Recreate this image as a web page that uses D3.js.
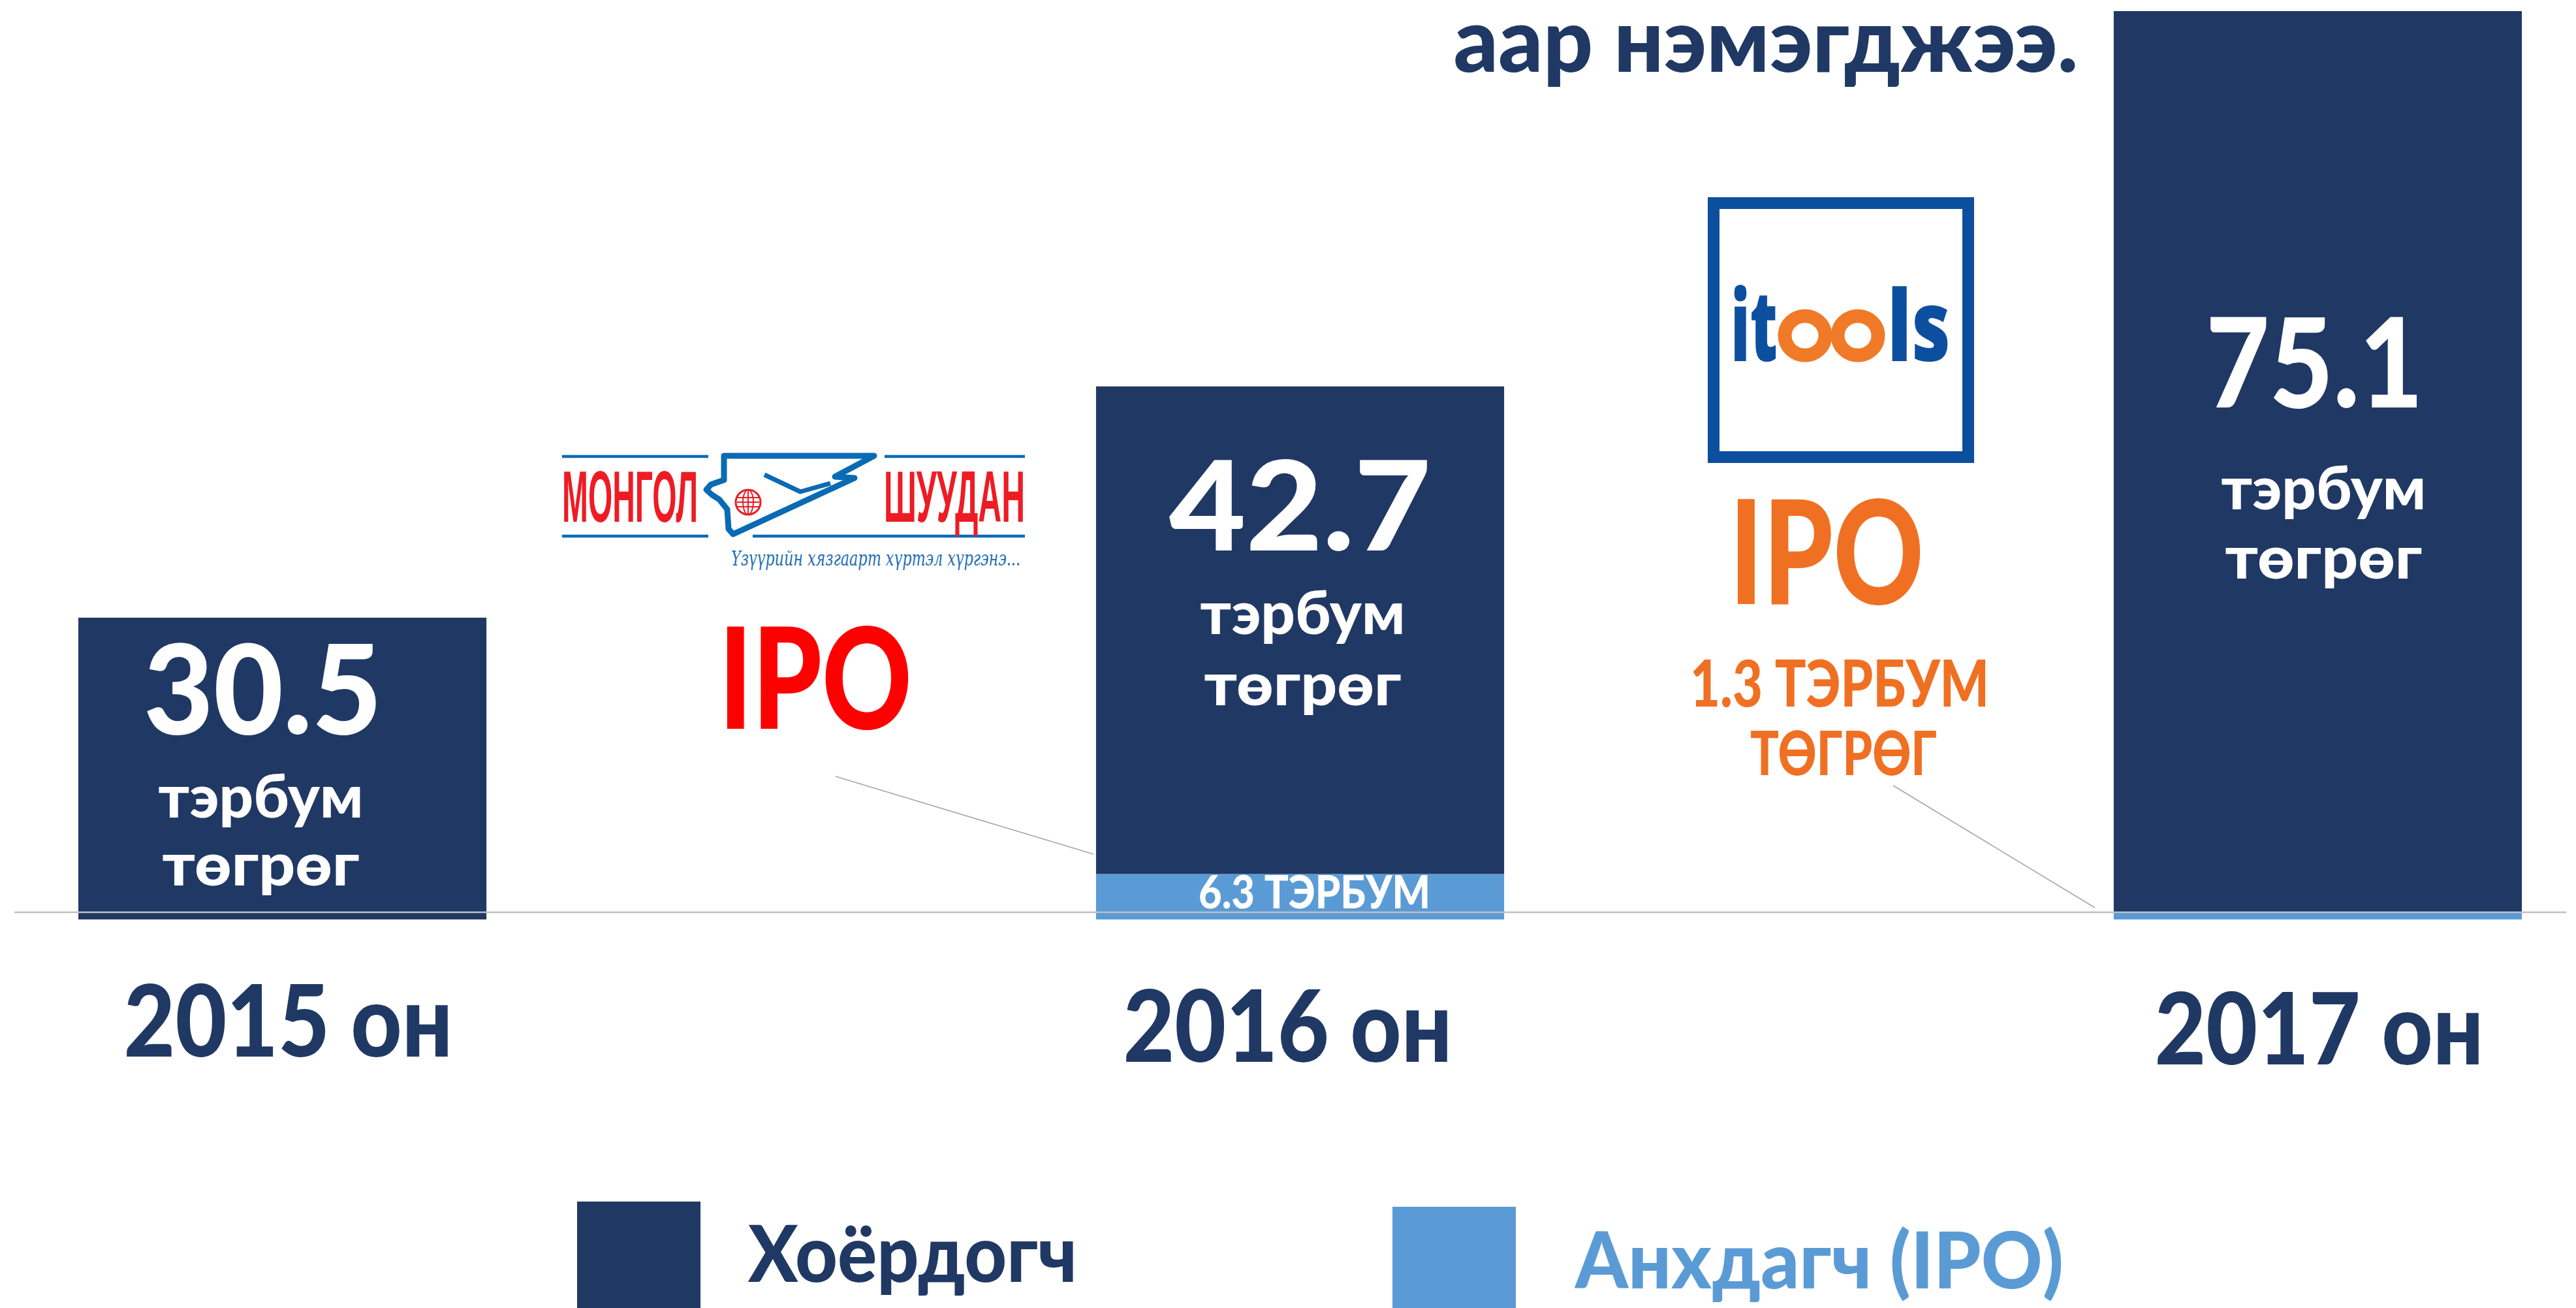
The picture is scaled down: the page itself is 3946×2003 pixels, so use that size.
<!DOCTYPE html>
<html>
<head>
<meta charset="utf-8">
<script src="https://cdn.jsdelivr.net/npm/d3@7"></script>
<style>
html,body{margin:0;padding:0;background:#ffffff;}
svg{display:block;}
</style>
</head>
<body>
<svg id="chart" width="3946" height="2003"></svg>
<script>
// ---------------- DATA ----------------
const years = ["2015 он", "2016 он", "2017 он"];
const secondary = [30.5, 42.7, 75.1];       // Хоёрдогч (тэрбум төгрөг)
const ipo = [0, 6.3, 1.3];                  // Анхдагч (IPO) (тэрбум төгрөг)
const seriesKeys = ["ipo", "secondary"];
const seriesNames = ["Хоёрдогч", "Анхдагч (IPO)"];
const unitLines = ["тэрбум", "төгрөг"];
const headline = "аар нэмэгджээ.";
const ipoWord = "IPO";
const ipoUnit = "ТЭРБУМ";
const ipoUnit2 = "ТӨГРӨГ";

// ---------------- STYLE / LAYOUT ----------------
const W = 3946, H = 2003;
const DARK = "#203864", LIGHT = "#5b9bd5";
const FONT = "Lato, 'Noto Sans', Inter, sans-serif";
const color = d3.scaleOrdinal().domain(seriesKeys).range([LIGHT, DARK]);

const svg = d3.select("#chart");

const x = d3.scaleBand().domain(years).range([120, 3863]).paddingInner(0.599).paddingOuter(0);
const rows = years.map((yr, i) => ({year: yr, ipo: ipo[i], secondary: secondary[i]}));
const stacked = d3.stack().keys(seriesKeys)(rows);
const maxTotal = d3.max(rows, d => d.ipo + d.secondary);
const y = d3.scalePow().exponent(1.2).domain([0, maxTotal]).range([1408, 17]);

function txt(g, o) {
  const t = g.append("text")
    .attr("x", o.x).attr("y", o.y)
    .attr("text-anchor", o.anchor || "middle")
    .attr("font-family", o.family || FONT)
    .attr("font-weight", o.weight || 900)
    .attr("font-size", o.size)
    .attr("fill", o.fill)
    .text(o.text);
  if (o.style) t.attr("font-style", o.style);
  if (o.width) t.attr("textLength", o.width).attr("lengthAdjust", "spacingAndGlyphs");
  return t;
}

// ---------------- HEADLINE (cropped) ----------------
txt(svg, {x: 2705, y: 110, text: headline, size: 136, fill: DARK, width: 957});

// ---------------- BARS ----------------
const gBars = svg.append("g");
gBars.selectAll("g.series").data(stacked).join("g")
  .attr("class", "series")
  .attr("fill", d => color(d.key))
  .selectAll("rect").data(d => d).join("rect")
  .attr("x", d => x(d.data.year))
  .attr("y", d => y(d[1]))
  .attr("width", x.bandwidth())
  .attr("height", d => y(d[0]) - y(d[1]));

// axis base line (drawn over bars)
svg.append("line")
  .attr("x1", 22).attr("x2", 3931).attr("y1", 1397).attr("y2", 1397)
  .attr("stroke", "#bfbfbf").attr("stroke-width", 2.5);

// ---------------- VALUE LABELS IN BARS ----------------
const lblLayout = {
  dx: [-30, 0, -5],
  numBase: [1124, 843, 624],
  numWidth: [365, 401, 333],
  unitBase1: [1252, 971, 780],
  unitBase2: [1356, 1080, 886],
  unitDx: [-33, 4, 9]
};
const gLbl = svg.append("g");
years.forEach((yr, i) => {
  const cx = x(yr) + x.bandwidth() / 2;
  txt(gLbl, {x: cx + lblLayout.dx[i], y: lblLayout.numBase[i], text: secondary[i].toFixed(1),
             size: 190, fill: "#ffffff", width: lblLayout.numWidth[i]});
  txt(gLbl, {x: cx + lblLayout.unitDx[i], y: lblLayout.unitBase1[i], text: unitLines[0],
             size: 91, fill: "#ffffff", width: 314});
  txt(gLbl, {x: cx + lblLayout.unitDx[i], y: lblLayout.unitBase2[i], text: unitLines[1],
             size: 91, fill: "#ffffff", width: 302});
});
// IPO value inside the 2016 light segment
txt(gLbl, {x: x(years[1]) + x.bandwidth() / 2 + 22, y: 1391, text: ipo[1].toFixed(1) + " " + ipoUnit,
           size: 71, fill: "#ffffff", width: 355});

// ---------------- YEAR AXIS ----------------
const yearDx = [9, -19, 2];
const yearBase = [221, 229, 233];
const gAxis = svg.append("g").attr("transform", "translate(0,1397)")
  .call(d3.axisBottom(x).tickSize(0).tickPadding(0));
gAxis.select(".domain").remove();
gAxis.selectAll(".tick text")
  .attr("font-family", FONT).attr("font-weight", 900).attr("font-size", 152)
  .attr("fill", DARK)
  .attr("dy", 0)
  .attr("y", (d, i) => yearBase[i])
  .attr("x", (d, i) => yearDx[i])
  .attr("textLength", 504).attr("lengthAdjust", "spacingAndGlyphs");

// ---------------- ANNOTATIONS ----------------
const gAnn = svg.append("g");
// leader lines
gAnn.append("line").attr("x1", 1280).attr("y1", 1189).attr("x2", 1675).attr("y2", 1308)
  .attr("stroke", "#a6a6a6").attr("stroke-width", 1.6);
gAnn.append("line").attr("x1", 2900).attr("y1", 1203).attr("x2", 3209).attr("y2", 1390)
  .attr("stroke", "#a6a6a6").attr("stroke-width", 1.6);

// Mongol Shuudan IPO (2016)
txt(gAnn, {x: 1249, y: 1116, text: ipoWord, size: 215, fill: "#ff0000", width: 296});
// iTools IPO (2017)
const ORANGE = "#f07023";
txt(gAnn, {x: 2798, y: 925, text: ipoWord, size: 222, fill: ORANGE, width: 298});
txt(gAnn, {x: 2818, y: 1082, text: ipo[2].toFixed(1) + " " + ipoUnit, size: 99, fill: ORANGE, width: 458});
txt(gAnn, {x: 2824, y: 1187, text: ipoUnit2, size: 94, fill: ORANGE, width: 286});

// ---- Mongol Shuudan logo ----
const gMS = svg.append("g");
const MSBLUE = "#0a6ab4", MSRED = "#ed1c24";
[[861, 1085, 699], [1355, 1570, 699], [861, 1085, 821], [1153, 1570, 821]].forEach(l => {
  gMS.append("line").attr("x1", l[0]).attr("x2", l[1]).attr("y1", l[2]).attr("y2", l[2])
    .attr("stroke", MSBLUE).attr("stroke-width", 4.5);
});
txt(gMS, {x: 861, y: 799, text: "МОНГОЛ", size: 111, fill: MSRED, width: 208, anchor: "start",
          family: "'Liberation Sans Narrow', 'Liberation Sans', Arial, sans-serif", weight: 700});
txt(gMS, {x: 1354, y: 799, text: "ШУУДАН", size: 111, fill: MSRED, width: 216, anchor: "start",
          family: "'Liberation Sans Narrow', 'Liberation Sans', Arial, sans-serif", weight: 700});
gMS.append("path")
  .attr("d", "M1109,698 L1339,698 L1279,730 L1309,732 L1123,818 L1116,810 L1114,780 L1102,765 L1091,758 L1082,750 L1089,742 L1109,735 Z")
  .attr("fill", "none").attr("stroke", MSBLUE).attr("stroke-width", 9).attr("stroke-linejoin", "round");
gMS.append("path").attr("d", "M1171,727 L1226,753 L1272,740")
  .attr("fill", "none").attr("stroke", MSBLUE).attr("stroke-width", 7).attr("stroke-linejoin", "round");
// globe
gMS.append("circle").attr("cx", 1146).attr("cy", 769).attr("r", 19)
  .attr("fill", "#fff").attr("stroke", MSRED).attr("stroke-width", 3);
gMS.append("ellipse").attr("cx", 1146).attr("cy", 769).attr("rx", 8).attr("ry", 19)
  .attr("fill", "none").attr("stroke", MSRED).attr("stroke-width", 2);
gMS.append("line").attr("x1", 1146).attr("x2", 1146).attr("y1", 750).attr("y2", 788).attr("stroke", MSRED).attr("stroke-width", 2);
[762, 769, 776].forEach(yy => {
  gMS.append("line").attr("x1", 1129).attr("x2", 1163).attr("y1", yy).attr("y2", yy)
    .attr("stroke", MSRED).attr("stroke-width", 2);
});
txt(gMS, {x: 1120, y: 866, text: "Үзүүрийн хязгаарт хүртэл хүргэнэ...", size: 32, fill: "#1f6fb5",
          width: 443, anchor: "start", family: "'DejaVu Serif', serif", weight: 400, style: "italic"});

// ---- iTools logo ----
const gIT = svg.append("g");
const ITBLUE = "#0d4f9f", ITORANGE = "#f07a28";
gIT.append("rect").attr("x", 2625).attr("y", 311).attr("width", 390).attr("height", 389)
  .attr("fill", "#fff").attr("stroke", ITBLUE).attr("stroke-width", 18);
txt(gIT, {x: 2651, y: 553, text: "it", size: 150, fill: ITBLUE, width: 72, anchor: "start",
          family: "'Open Sans', Inter, sans-serif", weight: 800});
txt(gIT, {x: 2891, y: 553, text: "ls", size: 150, fill: ITBLUE, width: 97, anchor: "start",
          family: "'Open Sans', Inter, sans-serif", weight: 800});
gIT.append("ellipse").attr("cx", 2765).attr("cy", 514).attr("rx", 31).attr("ry", 30)
  .attr("fill", "none").attr("stroke", ITORANGE).attr("stroke-width", 21);
gIT.append("ellipse").attr("cx", 2846).attr("cy", 514).attr("rx", 31).attr("ry", 30)
  .attr("fill", "none").attr("stroke", ITORANGE).attr("stroke-width", 21);

// ---------------- LEGEND ----------------
const legLayout = {sqX: [884, 2133], sqY: [1840, 1848], txtX: [1146, 2413], txtY: [1963, 1973], txtW: [504, 748]};
const gLeg = svg.append("g");
seriesNames.forEach((name, i) => {
  const key = i === 0 ? "secondary" : "ipo";
  gLeg.append("rect").attr("x", legLayout.sqX[i]).attr("y", legLayout.sqY[i])
    .attr("width", 189).attr("height", 200).attr("fill", color(key));
  txt(gLeg, {x: legLayout.txtX[i], y: legLayout.txtY[i], text: name, size: 121, fill: color(key),
             width: legLayout.txtW[i], anchor: "start"});
});
</script>
</body>
</html>
